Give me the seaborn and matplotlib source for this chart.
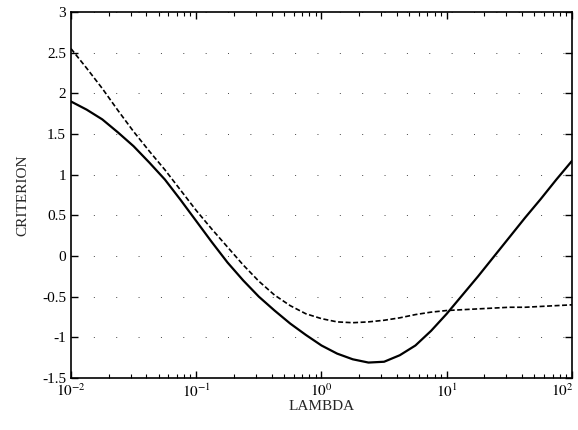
import numpy as np
import pandas as pd
import matplotlib
matplotlib.use("Agg")
import matplotlib.pyplot as plt
import matplotlib.transforms as mtransforms
import seaborn as sns
from matplotlib.ticker import LogLocator, NullFormatter

sns.set_theme(style="ticks")
plt.rcParams['font.family'] = ['Liberation Serif', 'DejaVu Serif']
plt.rcParams['mathtext.fontset'] = 'stix'

# log10(lambda) sample positions
log_lambda = [-2.0, -1.875, -1.75, -1.625, -1.5, -1.375, -1.25, -1.125, -1.0, -0.875,
              -0.75, -0.625, -0.5, -0.375, -0.25, -0.125, 0.0, 0.125, 0.25, 0.375,
              0.5, 0.625, 0.75, 0.875, 1.0, 1.125, 1.25, 1.375, 1.5, 1.625, 1.75,
              1.875, 2.0]
solid_vals = [1.90, 1.80, 1.68, 1.52, 1.35, 1.15, 0.94, 0.69, 0.43, 0.17,
              -0.08, -0.30, -0.50, -0.67, -0.83, -0.97, -1.10, -1.20, -1.27, -1.31,
              -1.30, -1.22, -1.10, -0.92, -0.71, -0.48, -0.25, -0.01, 0.23, 0.47, 0.70,
              0.94, 1.17]
dashed_vals = [2.55, 2.31, 2.06, 1.79, 1.53, 1.29, 1.06, 0.81, 0.56, 0.33,
               0.11, -0.11, -0.31, -0.48, -0.61, -0.71, -0.77, -0.81, -0.82, -0.81,
               -0.79, -0.76, -0.72, -0.69, -0.67, -0.66, -0.65, -0.64, -0.63, -0.63, -0.62,
               -0.61, -0.60]
y_ticks = [-1.5, -1, -0.5, 0, 0.5, 1, 1.5, 2, 2.5, 3]
x_ticks = [1e-2, 1e-1, 1e0, 1e1, 1e2]
x_tick_labels = [r'$10^{-2}$', r'$10^{-1}$', r'$10^{0}$', r'$10^{1}$', r'$10^{2}$']

lam = [10 ** v for v in log_lambda]
df = pd.DataFrame({
    'lambda': lam + lam,
    'criterion': solid_vals + dashed_vals,
    'series': ['solid'] * len(lam) + ['dashed'] * len(lam),
})

fig = plt.figure(figsize=(5.78, 4.30), dpi=100)
ax = fig.add_axes([0.1228, 0.1209, 0.8668, 0.8511])

ax.grid(True, which='major', axis='y', color='#444444', linewidth=0.7, linestyle=(0, (1, 22)))

sns.lineplot(data=df[df.series == 'solid'], x='lambda', y='criterion', ax=ax,
             color='black', linewidth=1.6, legend=False)
sns.lineplot(data=df[df.series == 'dashed'], x='lambda', y='criterion', ax=ax,
             color='black', linewidth=1.2, legend=False, linestyle=(0, (3, 1.5)))

ax.set_xscale('log')
ax.set_xlim(1e-2, 1e2)
ax.set_ylim(-1.5, 3)
ax.set_yticks(y_ticks)
ax.set_yticklabels([('%g' % t) for t in y_ticks])
ax.set_xticks(x_ticks)
ax.set_xticklabels(x_tick_labels)
ax.xaxis.set_minor_locator(LogLocator(base=10, subs=np.arange(2, 10)))
ax.xaxis.set_minor_formatter(NullFormatter())

ax.tick_params(which='both', direction='in', top=True, right=True, labelsize=11, colors='black')
ax.tick_params(which='major', length=5, width=1)
ax.tick_params(which='minor', length=3, width=0.8)
for s in ax.spines.values():
    s.set_color('black')
    s.set_linewidth(1.2)

# keep the last x tick label inside the figure
lbls = ax.get_xticklabels()
off = mtransforms.ScaledTranslation(-10 / 100, 0, fig.dpi_scale_trans)
lbls[-1].set_transform(lbls[-1].get_transform() + off)

ax.set_xlabel('LAMBDA', fontsize=11, labelpad=0)
ax.set_ylabel('CRITERION', fontsize=11, labelpad=9)

fig.savefig('out.png', dpi=100)
